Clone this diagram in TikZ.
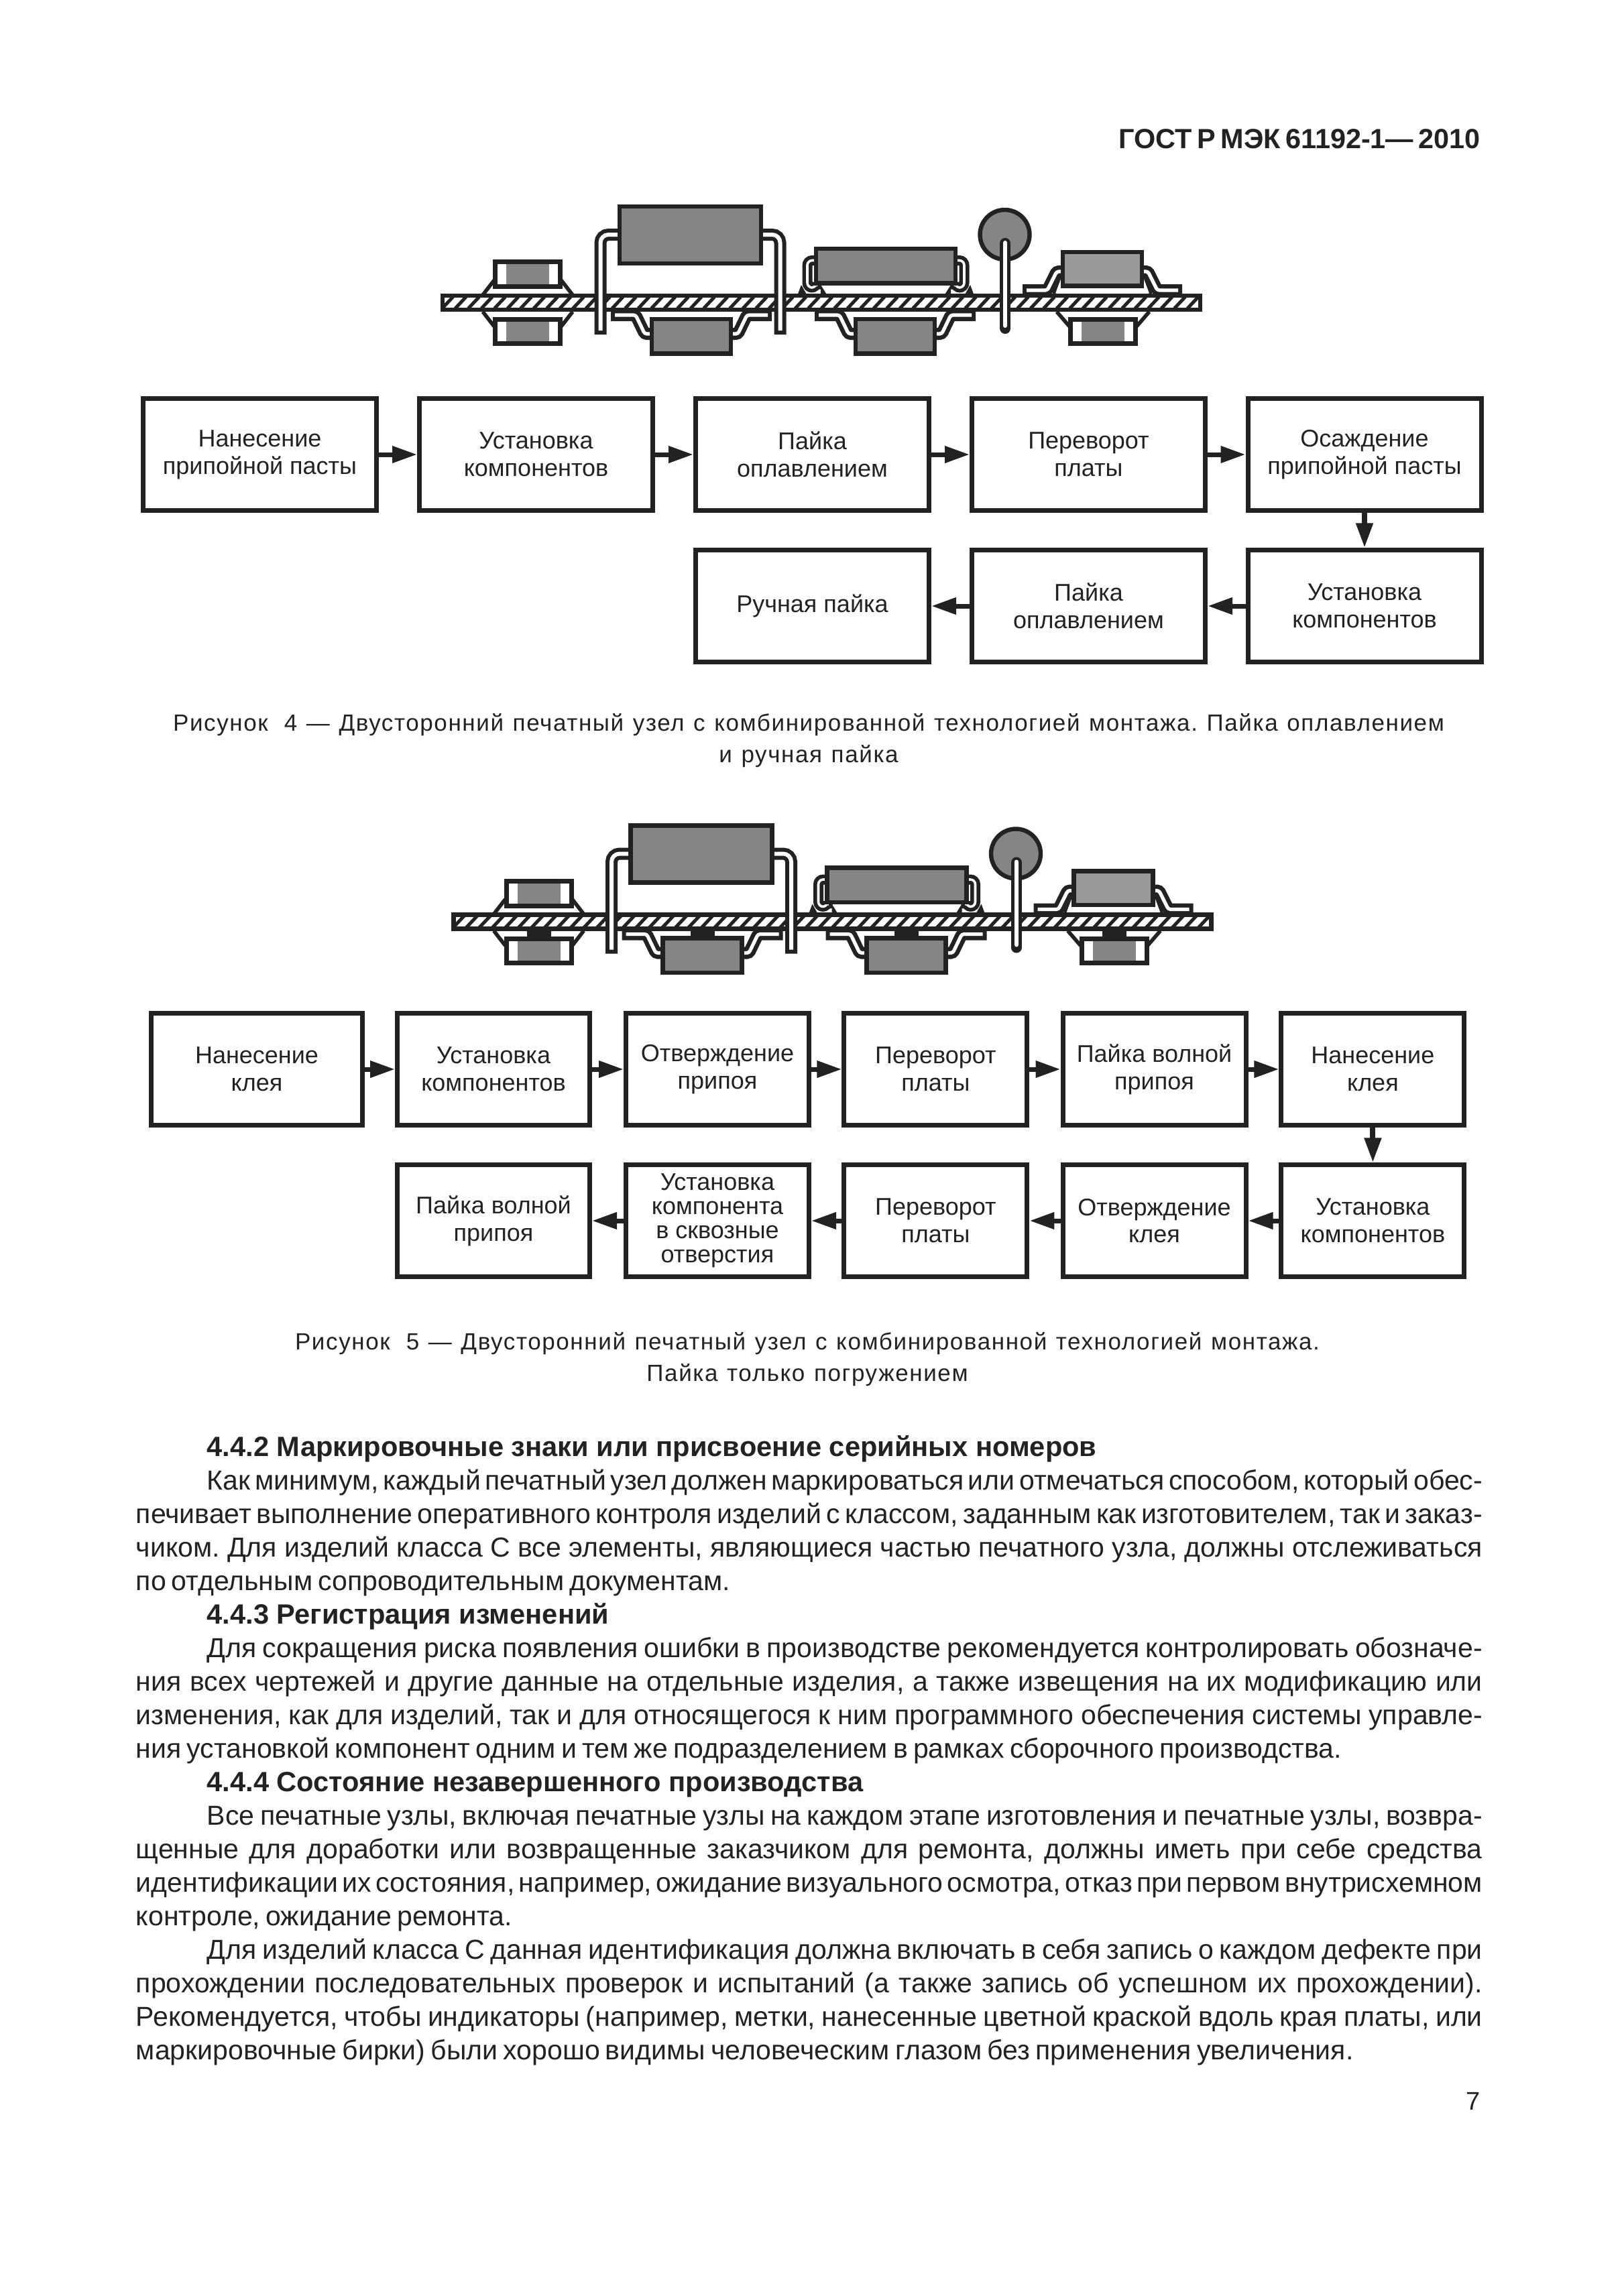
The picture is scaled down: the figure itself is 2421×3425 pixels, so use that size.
\documentclass[tikz,border=0pt]{standalone}
\usepackage{fontspec}
\setmainfont{Liberation Sans}
\newfontfamily\capfont[LetterSpace=4.6,WordSpace=1.2]{Liberation Sans}
\usetikzlibrary{arrows.meta}

\definecolor{ink}{HTML}{222222}
\definecolor{bodygray}{HTML}{858585}
\definecolor{palegray}{HTML}{999999}

\tikzset{
  stage/.style={draw=ink,line width=1.75pt,minimum height=41.6pt,inner sep=0pt,align=center,
    font=\fontsize{9}{10.2}\selectfont},
  flow/.style={ink,line width=1.75pt,-{Triangle[length=9.25pt,width=6pt]}},
  outline/.style={draw=ink,line width=1.6pt},
  solder/.style={ink,line width=1.4pt},
  tubeblack/.style={ink,line cap=rect},
  tubewhite/.style={white,shorten <=-0.75pt,shorten >=-0.75pt},
  captext/.style={anchor=base,font=\capfont\fontsize{8.75}{10}\selectfont}
}

\newcommand{\tube}[4]{
  \draw[tubeblack,rounded corners=#1pt,line width=#2pt] #4;
  \draw[tubewhite,rounded corners=#1pt,line width=#3pt] #4;
}
% chip between two solder lines
\newcommand{\chip}[3]{
  \fill[bodygray] (#1-32,#2) rectangle (#1+32,#3);
  \draw[ink,line width=1.75pt] (#1-48.5,#2) rectangle (#1+48.5,#3);
}
\newcommand{\gullbottom}[1]{
  \foreach \s in {-1,1} {
    \tube{0.8}{4.5}{1.3}{(#1+\s*111,470) -- (#1+\s*83,470) -- (#1+\s*69.5,498) -- (#1+\s*60,498)}
  }
}
\newcommand{\headline}[1]{\hspace*{26.5pt}{\spaceskip=0pt\bfseries\fontsize{10.4}{12.5}\selectfont #1}\par}
\newcommand{\assembly}{
  \gullbottom{1031}
  \gullbottom{1335}
  % gull wings on top
  \foreach \s in {-1,1} {
    \tube{0.8}{4.5}{1.3}{(1644+\s*110,433) -- (1644+\s*82,433) -- (1644+\s*68,405) -- (1644+\s*60,405)}
    \draw[ink,line width=1pt] (1644+\s*63,413) -- (1644+\s*72,437) -- (1644+\s*70,441);
    \fill[ink] (1321+\s*126,425) -- (1321+\s*132,441) -- (1321+\s*117,441) -- cycle;
    \fill[ink] (1321+\s*97,425) -- (1321+\s*87,441) -- (1321+\s*97,441) -- cycle;
    \draw[solder] (787+\s*50,418) -- (787+\s*67,440);
    \draw[solder] (787+\s*67,465) -- (787+\s*50,487);
    \draw[solder] (1645+\s*50,487) -- (1645+\s*69,465);
  }
  % board
  \draw[outline,fill=white] (660,441) rectangle (1790,462);
  \begin{scope}
    \clip (663,444.5) rectangle (1787,458.5);
    \foreach \k in {640,659.5,...,1800} {
      \draw[ink,line width=1.25pt] (\k,460) -- (\k+16,443);
    }
  \end{scope}
  % leads through the board
  \foreach \s in {-1,1} {
    \tube{3}{4.5}{1.5}{(1029.5+\s*105,350) -- (1029.5+\s*134,350) -- (1029.5+\s*134,490)}
    \tube{1.8}{3.75}{0.9}{(1321+\s*105,388.5) -- (1321+\s*117,388.5) -- (1321+\s*117,429) -- (1321+\s*103.5,429) -- (1321+\s*103.5,424)}
  }
  \draw[outline,fill=bodygray] (1498.5,350) circle[radius=37];
  \draw[ink,line width=4pt,line cap=round] (1499.3,363) -- (1499.3,490);
  \draw[white,line width=1.5pt,line cap=round] (1499.3,362) -- (1499.3,486);
  % bodies
  \draw[outline,fill=bodygray] (924,308) rectangle (1135,393);
  \draw[outline,fill=bodygray] (1217,371) rectangle (1425,422.5);
  \draw[outline,fill=palegray] (1585,376) rectangle (1703,426.5);
  \foreach \c in {1031,1335} {
    \draw[outline,fill=bodygray] (\c-59,476) rectangle (\c+59,527.5);
  }
  \chip{787}{390.5}{427.5}
  \chip{787}{476.5}{512.5}
  \chip{1645}{476.5}{512.5}
}

\begin{document}
\begin{tikzpicture}[x=0.25pt,y=-0.25pt,every node/.style={text=ink}]
\useasboundingbox (0,0) rectangle (2421,3425);

\node[anchor=base east,font=\bfseries\fontsize{10.35}{12}\selectfont] (header) at (2222,221.7) {\spaceskip=0.18em ГОСТ Р МЭК 61192-1— 2010};

\assembly

% first chart
\begin{scope}[stage/.append style={minimum width=87pt}]
  \node[stage] (pasteA) at (387.5,678) {Нанесение\\припойной пасты};
  \node[stage] (placeA) at (799.5,678) {Установка\\компонентов};
  \node[stage] (reflowA) at (1211.5,678) {Пайка\\оплавлением};
  \node[stage] (flipA) at (1623.5,678) {Переворот\\платы};
  \node[stage] (depoA) at (2035,678) {Осаждение\\припойной пасты};
  \node[stage] (placeB) at (2035,904) {Установка\\компонентов};
  \node[stage] (reflowB) at (1623.5,904) {Пайка\\оплавлением};
  \node[stage] (handA) at (1211.5,904) {Ручная пайка};
\end{scope}
\draw[flow] (pasteA) -- (placeA);
\draw[flow] (placeA) -- (reflowA);
\draw[flow] (reflowA) -- (flipA);
\draw[flow] (flipA) -- (depoA);
\draw[flow,line width=2pt] (depoA) -- (placeB);
\draw[flow] (placeB) -- (reflowB);
\draw[flow] (reflowB) -- (handA);

\node[captext] (capA) at (1206,1090) {\frenchspacing Рисунок\hspace{0.3em} 4 — Двусторонний печатный узел с комбинированной технологией монтажа. Пайка оплавлением};
\node[captext] (capB) at (1206,1137) {и ручная пайка};

\begin{scope}[shift={(16.5,923.5)}]
  \assembly
  \foreach \c in {787,1031,1335,1645} {
    \fill[ink] (\c-18,464) rectangle (\c+18,475);
  }
\end{scope}

% second chart
\node[stage,minimum width=78.75pt] (glueA) at (383,1595) {Нанесение\\клея};
\node[stage,minimum width=71.75pt] (placeC) at (736,1595) {Установка\\компонентов};
\node[stage,minimum width=68.25pt] (cureA) at (1070,1595) {Отверждение\\припоя};
\node[stage,minimum width=68.25pt] (flipB) at (1395.4,1595) {Переворот\\платы};
\node[stage,minimum width=68.25pt] (waveA) at (1721.5,1595) {Пайка волной\\припоя};
\node[stage,minimum width=68.25pt] (glueB) at (2047.4,1595) {Нанесение\\клея};
\node[stage,minimum width=68.25pt] (placeD) at (2047.4,1821) {Установка\\компонентов};
\node[stage,minimum width=68.25pt] (cureB) at (1721.5,1821) {Отверждение\\клея};
\node[stage,minimum width=68.25pt] (flipC) at (1395.4,1821) {Переворот\\платы};
\node[stage,minimum width=68.25pt,font=\fontsize{9}{9}\selectfont] (throughA) at (1070,1821) {Установка\\компонента\\в сквозные\\отверстия};
\node[stage,minimum width=71.75pt] (waveB) at (736,1821) {Пайка волной\\припоя};
\draw[flow] (glueA) -- (placeC);
\draw[flow] (placeC) -- (cureA);
\draw[flow] (cureA) -- (flipB);
\draw[flow] (flipB) -- (waveA);
\draw[flow] (waveA) -- (glueB);
\draw[flow,line width=2pt] (glueB) -- (placeD);
\draw[flow] (placeD) -- (cureB);
\draw[flow] (cureB) -- (flipC);
\draw[flow] (flipC) -- (throughA);
\draw[flow] (throughA) -- (waveB);

\node[captext] (capC) at (1204,2013) {Рисунок\hspace{0.3em} 5 — Двусторонний печатный узел с комбинированной технологией монтажа.};
\node[captext] (capD) at (1204,2060) {Пайка только погружением};

\node[anchor=north west,inner sep=0pt,text width=502pt,align=justify,
  font=\fontsize{10.25}{12.5}\selectfont] (bodytext) at (202,2141) {%
\frenchspacing\spaceskip=0.2em plus 0.3em minus 0.08em \tolerance=9999 \hbadness=10000 \hfuzz=6pt
\headline{4.4.2 Маркировочные знаки или присвоение серийных номеров}
\hspace*{26.5pt}Как минимум, каждый печатный узел должен маркироваться или отмечаться способом, который обес-\linebreak
печивает выполнение оперативного контроля изделий с классом, заданным как изготовителем, так и заказ-\linebreak
чиком. Для изделий класса С все элементы, являющиеся частью печатного узла, должны отслеживаться\linebreak
по отдельным сопроводительным документам.\par
\headline{4.4.3 Регистрация изменений}
\hspace*{26.5pt}Для сокращения риска появления ошибки в производстве рекомендуется контролировать обозначе-\linebreak
ния всех чертежей и другие данные на отдельные изделия, а также извещения на их модификацию или\linebreak
изменения, как для изделий, так и для относящегося к ним программного обеспечения системы управле-\linebreak
ния установкой компонент одним и тем же подразделением в рамках сборочного производства.\par
\headline{4.4.4 Состояние незавершенного производства}
\hspace*{26.5pt}Все печатные узлы, включая печатные узлы на каждом этапе изготовления и печатные узлы, возвра-\linebreak
щенные для доработки или возвращенные заказчиком для ремонта, должны иметь при себе средства\linebreak
идентификации их состояния, например, ожидание визуального осмотра, отказ при первом внутрисхемном\linebreak
контроле, ожидание ремонта.\par
\hspace*{26.5pt}Для изделий класса С данная идентификация должна включать в себя запись о каждом дефекте при\linebreak
прохождении последовательных проверок и испытаний (а также запись об успешном их прохождении).\linebreak
Рекомендуется, чтобы индикаторы (например, метки, нанесенные цветной краской вдоль края платы, или\linebreak
маркировочные бирки) были хорошо видимы человеческим глазом без применения увеличения.\par
};

\node[anchor=base east,font=\fontsize{9.5}{12}\selectfont] (pagenum) at (2222,3147) {7};

\end{tikzpicture}
\end{document}
